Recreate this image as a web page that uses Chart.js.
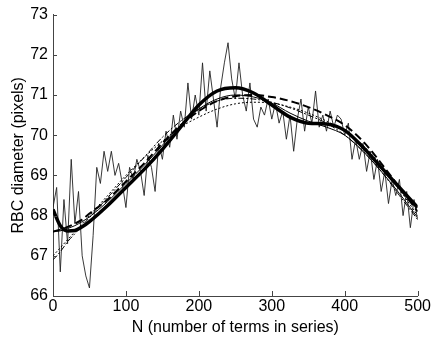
<!DOCTYPE html>
<html>
<head>
<meta charset="utf-8">
<script src="https://cdn.jsdelivr.net/npm/chart.js@4/dist/chart.umd.min.js"></script>
<style>
  html, body { margin: 0; padding: 0; background: #fff; }
  #wrap { width: 432px; height: 339px; }
</style>
</head>
<body>
<div id="wrap"><canvas id="c" width="432" height="339"></canvas></div>
<script>
// raw measurements, every 5 terms
const rawN = [];
for (let n = 0; n <= 500; n += 5) rawN.push(n);
const rawVals = [
  68.2, 68.7, 66.6, 68.4, 67.3, 69.4, 67.8, 68.6, 67.0, 66.5,
  66.2, 67.5, 69.2, 68.8, 69.6, 69.1, 69.6, 69.0, 69.3, 68.8,
  68.2, 69.2, 68.9, 69.4, 69.1, 68.5, 69.5, 69.2, 68.6, 69.8,
  69.4, 70.1, 69.7, 70.5, 69.9, 70.6, 70.2, 71.3, 70.4, 71.0,
  70.5, 71.8, 70.6, 71.6, 70.9, 70.2, 71.2, 71.8, 72.3, 71.4,
  70.9, 71.8, 71.0, 70.6, 71.3, 70.4, 70.2, 70.7, 70.5, 70.9,
  70.4, 70.8, 70.3, 70.6, 69.9, 70.5, 69.6, 70.4, 70.9, 70.1,
  70.7, 70.3, 71.1, 70.2, 70.5, 70.1, 70.6, 70.2, 70.5, 70.4,
  70.0, 70.3, 69.4, 69.9, 69.4, 69.8, 69.1, 69.6, 68.9, 69.4,
  68.6, 69.1, 68.3, 68.9, 68.5, 68.9, 68.0, 68.6, 67.7, 68.4,
  67.9
];

// fitted curves
const fitN = [0, 10, 20, 30, 40, 50, 75, 100, 125, 150, 175, 200, 225, 250, 275, 300, 325, 350, 375, 400, 425, 450, 475, 500];
const fitThick = [68.15, 67.75, 67.62, 67.63, 67.72, 67.85, 68.25, 68.7, 69.15, 69.65, 70.2, 70.75, 71.1, 71.18, 71.05, 70.75, 70.45, 70.3, 70.28, 70.12, 69.7, 69.2, 68.7, 68.2];
const fitDashed = [67.6, 67.65, 67.72, 67.8, 67.9, 68.05, 68.4, 68.85, 69.3, 69.8, 70.25, 70.6, 70.85, 70.97, 71.0, 70.95, 70.85, 70.7, 70.5, 70.25, 69.85, 69.3, 68.7, 68.1];
const fitDotted = [67.0, 67.2, 67.4, 67.6, 67.8, 68.0, 68.5, 69.0, 69.45, 69.85, 70.2, 70.45, 70.65, 70.78, 70.82, 70.8, 70.7, 70.55, 70.35, 70.1, 69.75, 69.25, 68.65, 68.0];
const fitDashDot = [66.9, 67.1, 67.35, 67.55, 67.75, 67.95, 68.45, 68.95, 69.45, 69.95, 70.35, 70.65, 70.85, 70.92, 70.9, 70.82, 70.68, 70.5, 70.3, 70.0, 69.6, 69.1, 68.5, 67.9];
const fitThin = [67.6, 67.62, 67.68, 67.75, 67.85, 67.97, 68.35, 68.8, 69.25, 69.75, 70.25, 70.65, 70.9, 71.0, 70.95, 70.8, 70.55, 70.35, 70.2, 70.0, 69.6, 69.1, 68.55, 67.95];

const xTicks = [0, 100, 200, 300, 400, 500];
const yTicks = [66, 67, 68, 69, 70, 71, 72, 73];

const pts = (xs, ys) => xs.map((x, i) => ({ x: x, y: ys[i] }));
const FONT = "'Liberation Sans', Arial, sans-serif";

function fitSet(ys, width, dash, order) {
  return {
    data: pts(fitN, ys),
    borderColor: '#000',
    borderWidth: width,
    borderDash: dash,
    pointRadius: 0,
    cubicInterpolationMode: 'monotone',
    fill: false,
    order: order
  };
}

// inward tick marks like the original plot
const innerTicks = {
  id: 'innerTicks',
  afterDraw(chart) {
    const ctx = chart.ctx, xs = chart.scales.x, ys = chart.scales.y;
    const a = chart.chartArea;
    ctx.save();
    ctx.strokeStyle = '#444';
    ctx.lineWidth = 1;
    ctx.beginPath();
    xTicks.forEach(v => {
      const px = Math.round(xs.getPixelForValue(v)) + 0.5;
      ctx.moveTo(px, a.bottom);
      ctx.lineTo(px, a.bottom - 5);
    });
    yTicks.forEach(v => {
      const py = Math.round(ys.getPixelForValue(v)) + 0.5;
      ctx.moveTo(a.left, py);
      ctx.lineTo(a.left + 4, py);
    });
    ctx.stroke();
    ctx.restore();
  }
};

new Chart(document.getElementById('c'), {
  type: 'line',
  data: {
    datasets: [
      fitSet(fitThick, 3.5, [], 0),
      fitSet(fitDashed, 2, [8, 4], 1),
      fitSet(fitDotted, 1, [2, 2], 2),
      fitSet(fitDashDot, 1, [6, 2, 2, 2], 3),
      fitSet(fitThin, 1, [], 4),
      {
        data: pts(rawN, rawVals),
        borderColor: '#222',
        borderWidth: 0.9,
        pointRadius: 0,
        tension: 0,
        fill: false,
        order: 5
      }
    ]
  },
  options: {
    responsive: false,
    animation: false,
    layout: { padding: { top: 14, right: 14, left: 0, bottom: 0 } },
    plugins: { legend: { display: false }, tooltip: { enabled: false } },
    scales: {
      x: {
        type: 'linear',
        min: 0, max: 500,
        afterFit(s) { s.height = 43; },
        grid: { display: false, drawTicks: false },
        border: { display: true, color: '#444', width: 1 },
        ticks: { stepSize: 100, padding: 1, color: '#000', font: { family: FONT, size: 16 } },
        title: { display: true, text: 'N (number of terms in series)', color: '#000', padding: { top: 0, bottom: 2 }, font: { family: FONT, size: 16 } }
      },
      y: {
        min: 66, max: 73,
        afterFit(s) { s.width = 53; },
        grid: { display: false, drawTicks: false },
        border: { display: true, color: '#444', width: 1 },
        ticks: { stepSize: 1, padding: 5, color: '#000', font: { family: FONT, size: 16 } },
        title: { display: true, text: 'RBC diameter (pixels)', color: '#000', padding: { top: 9, bottom: 0 }, font: { family: FONT, size: 16 } }
      }
    }
  },
  plugins: [innerTicks]
});
</script>
</body>
</html>
